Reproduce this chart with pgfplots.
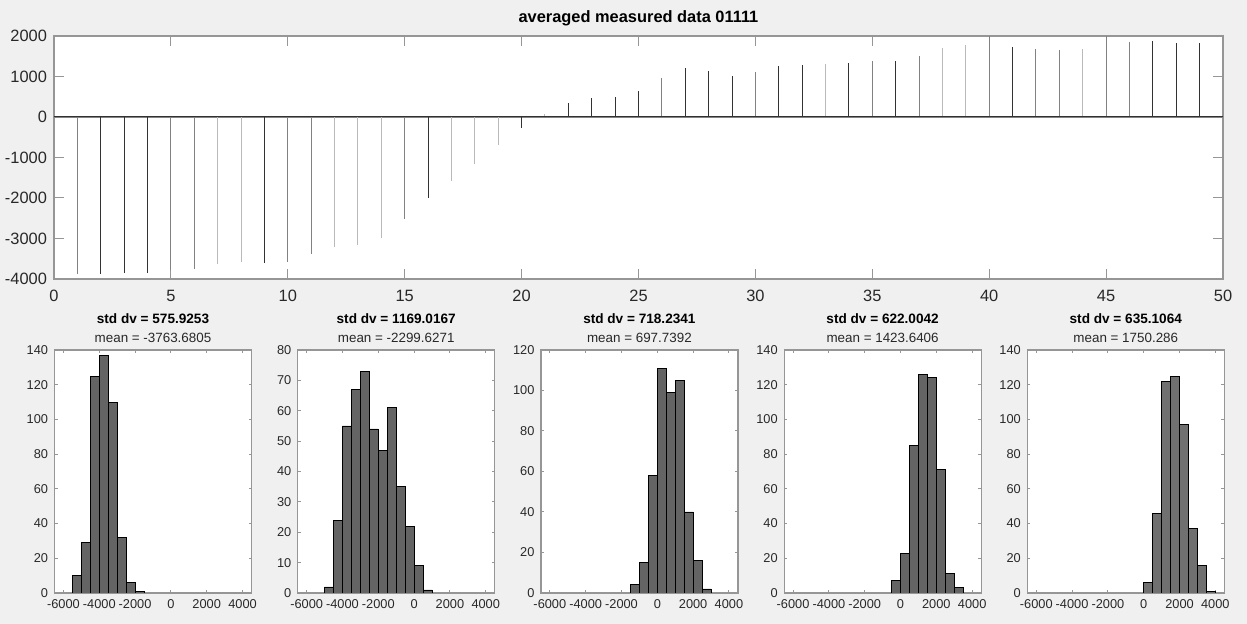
\documentclass[border=0pt]{standalone}
\usepackage{pgfplots}
\pgfplotsset{compat=1.18}
\usepackage{fontspec}
\setmainfont{Liberation Sans}
\definecolor{figbg}{RGB}{240,240,240}
\definecolor{axc}{RGB}{150,150,150}
\definecolor{txt}{RGB}{40,40,40}
\definecolor{barc}{RGB}{100,100,100}
\definecolor{barc5}{RGB}{112,112,112}
\definecolor{stemdark}{RGB}{50,50,50}
\definecolor{stemmid}{RGB}{130,130,130}
\definecolor{stemlight}{RGB}{185,185,185}

\pgfplotsset{
  mstyle/.style={
    scale only axis,
    axis background/.style={fill=white},
    axis line style={axc, line width=0.6pt},
    tick style={axc, line width=0.5pt},
    tick align=inside,
    ticklabel style={text=txt},
    /pgf/number format/assume math mode=true,
    /pgf/number format/1000 sep={},
  },
  hstyle/.style={
    mstyle,
    width=98.5pt, height=121.5pt,
    anchor=south west,
    xmin=-6500, xmax=4500, ymin=0,
    xtick={-6000,-4000,...,4000},
    major tick length=1.5pt,
    tick label style={font=\fontsize{6.4}{7}\selectfont},
    yticklabel style={xshift=0.3pt},
  },
  hbar/.style={ybar interval, fill=barc, draw=black, line width=0.4pt},
}

\begin{document}
\begin{tikzpicture}
\path[use as bounding box, fill=figbg] (0,0) rectangle (623.5pt,312pt);

% ---------------- top stem plot ----------------
\begin{axis}[mstyle, name=top,
  at={(27pt,172.5pt)}, anchor=south west,
  width=584.5pt, height=121.5pt,
  xmin=0, xmax=50, ymin=-4000, ymax=2000,
  xtick={0,5,...,50}, ytick={-4000,-3000,...,2000},
  major tick length=5pt,
  tick label style={font=\fontsize{8.2}{9}\selectfont},
  xticklabel style={yshift=-2pt},
]
\addplot[stemmid, line width=0.45pt] coordinates {(0,0) (50,0)};
\addplot[ycomb, stemdark, line width=0.5pt, mark=none] coordinates {
 (2,-3880) (3,-3855) (4,-3840) (9,-3610) (16,-2010) (20,-280)
 (22,337) (23,477) (24,500) (25,650) (27,1200) (28,1134) (29,1011)
 (31,1249) (32,1282) (34,1331) (36,1381) (41,1720) (47,1866) (48,1833) (49,1816)
};
\addplot[ycomb, stemmid, line width=0.5pt, mark=none] coordinates {
 (1,-3880) (5,-3780) (6,-3756) (10,-3570) (11,-3380) (15,-2520)
 (26,970) (30,1101) (35,1381) (37,1504) (40,2000) (42,1686) (43,1662)
 (45,2000) (46,1849)
};
\addplot[ycomb, stemlight, line width=0.5pt, mark=none] coordinates {
 (7,-3630) (8,-3580) (12,-3220) (13,-3170) (14,-2990) (17,-1590)
 (18,-1170) (19,-700) (21,67) (33,1299) (38,1693) (39,1780) (44,1680)
};
\addplot[stemdark, line width=0.5pt] coordinates {(0,0) (50,0)};
\end{axis}
\node[anchor=base, font=\bfseries\fontsize{8.2}{9}\selectfont] at ([yshift=6.5pt]top.north) {averaged measured data 01111};

% ---------------- histograms ----------------
\begin{axis}[hstyle, name=h1, at={(27.25pt,15.5pt)}, ymax=140, ytick={0,20,...,140}]
\addplot[hbar] coordinates {(-5500,10) (-5000,29) (-4500,125) (-4000,137) (-3500,110) (-3000,32) (-2500,6) (-2000,1) (-1500,1)};
\end{axis}

\begin{axis}[hstyle, name=h2, at={(148.85pt,15.5pt)}, ymax=80, ytick={0,10,...,80}]
\addplot[hbar] coordinates {(-5000,2) (-4500,24) (-4000,55) (-3500,67) (-3000,73) (-2500,54) (-2000,47) (-1500,61) (-1000,35) (-500,22) (0,9) (500,1) (1000,1)};
\end{axis}

\begin{axis}[hstyle, name=h3, at={(270.45pt,15.5pt)}, ymax=120, ytick={0,20,...,120}]
\addplot[hbar] coordinates {(-1500,4) (-1000,15) (-500,58) (0,111) (500,99) (1000,105) (1500,40) (2000,16) (2500,2) (3000,2)};
\end{axis}

\begin{axis}[hstyle, name=h4, at={(392.05pt,15.5pt)}, ymax=140, ytick={0,20,...,140}]
\addplot[hbar] coordinates {(-500,7) (0,23) (500,85) (1000,126) (1500,124) (2000,71) (2500,11) (3000,3) (3500,3)};
\end{axis}

\begin{axis}[hstyle, name=h5, at={(513.65pt,15.5pt)}, ymax=140, ytick={0,20,...,140}]
\addplot[hbar, fill=barc5] coordinates {(0,6) (500,46) (1000,122) (1500,125) (2000,97) (2500,37) (3000,16) (3500,1) (4000,1)};
\end{axis}

\foreach \h/\s/\m in {h1/575.9253/-3763.6805, h2/1169.0167/-2299.6271, h3/718.2341/697.7392, h4/622.0042/1423.6406, h5/635.1064/1750.286}{
  \node[anchor=base, font=\bfseries\fontsize{6.8}{7}\selectfont] at ([yshift=13pt]\h.north) {std dv = \s};
  \node[anchor=base, font=\fontsize{6.7}{7}\selectfont, text=txt] at ([yshift=3.6pt]\h.north) {mean = \m};
}
\end{tikzpicture}
\end{document}
